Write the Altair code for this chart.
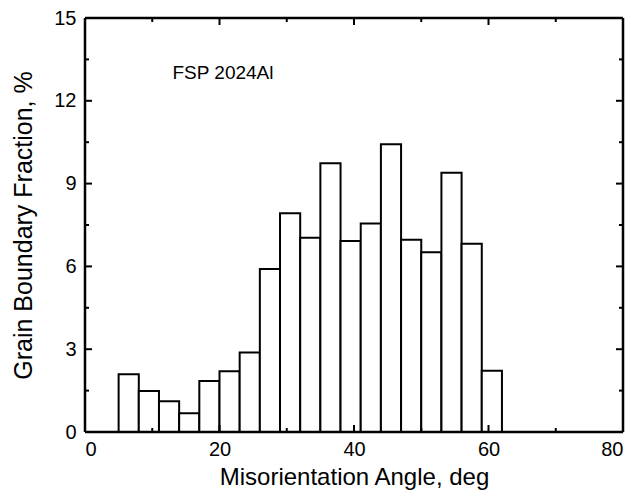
import altair as alt
import pandas as pd

bin_start = [5, 8, 11, 14, 17, 20, 23, 26, 29, 32, 35, 38, 41, 44, 47, 50, 53, 56, 59]
bin_end = [8, 11, 14, 17, 20, 23, 26, 29, 32, 35, 38, 41, 44, 47, 50, 53, 56, 59, 62]
fraction = [2.09, 1.49, 1.11, 0.68, 1.85, 2.2, 2.88, 5.91, 7.93, 7.04, 9.74, 6.92, 7.55, 10.43, 6.97, 6.51, 9.39, 6.82, 2.22]

x_major = [0, 20, 40, 60, 80]
x_minor = [10, 30, 50, 70]
y_major = [0, 3, 6, 9, 12, 15]
y_minor = [1.5, 4.5, 7.5, 10.5, 13.5]

note_text = ["FSP 2024Al"]
note_x = [13.0]
note_y = [13.0]

W, H = 538, 414
FONT = "Liberation Sans"

bars_df = pd.DataFrame({"start": bin_start, "end": bin_end, "frac": fraction,
                        "base": [0.0] * len(fraction)})

xs = alt.Scale(domain=[0, 80], nice=False, zero=False)
ys = alt.Scale(domain=[0, 15], nice=False)

bars = alt.Chart(bars_df).mark_bar(fill="white", stroke="black", strokeWidth=2).encode(
    x=alt.X("start:Q", scale=xs, axis=alt.Axis(
        values=x_major, title="Misorientation Angle, deg", domain=False, ticks=False,
        grid=False, labelFont=FONT, labelFontSize=20, labelColor="black", labelPadding=7,
        titleFont=FONT, titleFontSize=24, titleFontWeight="normal", titleColor="black",
        titlePadding=6)),
    x2="end:Q",
    y=alt.Y("frac:Q", scale=ys, axis=alt.Axis(
        values=y_major, title="Grain Boundary Fraction, %", domain=False, ticks=False,
        grid=False, labelFont=FONT, labelFontSize=20, labelColor="black", labelPadding=9,
        titleFont=FONT, titleFontSize=25, titleFontWeight="normal", titleColor="black",
        titlePadding=17)),
    y2="base:Q",
)

def vticks(vals, length, top):
    df = pd.DataFrame({"v": vals})
    if top:
        return alt.Chart(df).mark_rule(color="black", strokeWidth=2).encode(
            x=alt.X("v:Q", scale=xs), y=alt.value(0), y2=alt.value(length))
    return alt.Chart(df).mark_rule(color="black", strokeWidth=2).encode(
        x=alt.X("v:Q", scale=xs), y=alt.value(H), y2=alt.value(H - length))

def hticks(vals, length, right):
    df = pd.DataFrame({"v": vals})
    if right:
        return alt.Chart(df).mark_rule(color="black", strokeWidth=2).encode(
            y=alt.Y("v:Q", scale=ys), x=alt.value(W), x2=alt.value(W - length))
    return alt.Chart(df).mark_rule(color="black", strokeWidth=2).encode(
        y=alt.Y("v:Q", scale=ys), x=alt.value(0), x2=alt.value(length))

tick_layers = [
    vticks(x_major, 7, False), vticks(x_minor, 4, False),
    vticks(x_major, 7, True), vticks(x_minor, 4, True),
    hticks(y_major, 7, False), hticks(y_minor, 4, False),
    hticks(y_major, 7, True), hticks(y_minor, 4, True),
]

one = pd.DataFrame({"k": [0]})
frame = [
    alt.Chart(one).mark_rule(color="black", strokeWidth=2.5).encode(
        x=alt.value(0), x2=alt.value(W), y=alt.value(0)),
    alt.Chart(one).mark_rule(color="black", strokeWidth=2.5).encode(
        x=alt.value(0), x2=alt.value(W), y=alt.value(H)),
    alt.Chart(one).mark_rule(color="black", strokeWidth=2.5).encode(
        y=alt.value(0), y2=alt.value(H), x=alt.value(0)),
    alt.Chart(one).mark_rule(color="black", strokeWidth=2.5).encode(
        y=alt.value(0), y2=alt.value(H), x=alt.value(W)),
]

note = alt.Chart(pd.DataFrame({"t": note_text, "x": note_x, "y": note_y})).mark_text(
    align="left", baseline="middle", font=FONT, fontSize=19, color="black"
).encode(x=alt.X("x:Q", scale=xs), y=alt.Y("y:Q", scale=ys), text="t:N")

chart = alt.layer(bars, *tick_layers, *frame, note).properties(
    width=W, height=H,
    autosize=alt.AutoSizeParams(type="none"),
    padding={"left": 77, "top": 10, "right": 5, "bottom": 63},
).configure_view(stroke=None).configure(background="white")

chart.save("out.html", embed_options={"renderer": "svg", "actions": False})
